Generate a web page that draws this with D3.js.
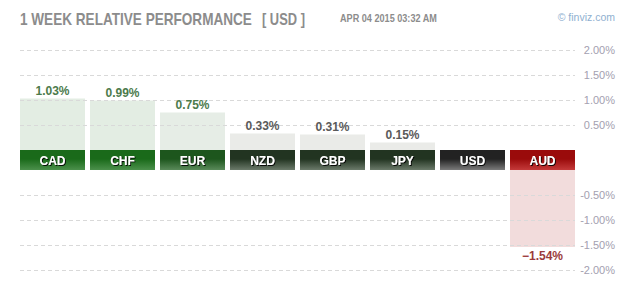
<!DOCTYPE html>
<html><head><meta charset="utf-8">
<script src="https://cdn.jsdelivr.net/npm/d3@7"></script>
<style>body{margin:0;background:#fff;} svg{display:block;font-family:Arial,"Liberation Sans",sans-serif;}</style>
</head><body>
<svg id="c" width="625" height="290"></svg>
<script>
const categories = ["CAD","CHF","EUR","NZD","GBP","JPY","USD","AUD"];
const values = [1.03, 0.99, 0.75, 0.33, 0.31, 0.15, 0.00, -1.54];
const posTicks = [0.5, 1.0, 1.5, 2.0];
const negTicks = [-0.5, -1.0, -1.5, -2.0];
const titleText = "1 WEEK RELATIVE PERFORMANCE";
const currencyText = "[ USD ]";
const dateText = "APR 04 2015 03:32 AM";
const creditText = "\u00A9 finviz.com";

const svg = d3.select("#c");
const x = d3.scaleBand().domain(categories).range([20, 575]).paddingInner(5/70).paddingOuter(0);
const yPos = d3.scaleLinear().domain([0, 2]).range([150, 50]);
const yNeg = d3.scaleLinear().domain([0, -2]).range([170, 270]);

function tier(v){
  if (v >= 0.9) return "g1";
  if (v >= 0.5) return "g2";
  if (v > 0) return "g3";
  if (v === 0) return "n";
  return "r";
}
const grads = {
  g1:["#1a6a1a","#4b904b"], g2:["#1d561d","#5a8a5a"], g3:["#223421","#6b7a6a"],
  n:["#222222","#7a7a7a"], r:["#9a0b0b","#c43a3a"]
};
const barFill = {g1:"#e3ede3", g2:"#e6ede6", g3:"#eaebe8", n:"#eaebe8", r:"#f2dcdc"};
const valColor = {g1:"#4c7b4c", g2:"#4c7b4c", g3:"#5a5a5a", n:"#5a5a5a", r:"#9b3b3b"};

const defs = svg.append("defs");
Object.entries(grads).forEach(([k,[a,b]])=>{
  const g = defs.append("linearGradient").attr("id","gr_"+k).attr("x1",0).attr("y1",0).attr("x2",0).attr("y2",1);
  g.append("stop").attr("offset","0%").attr("stop-color",a);
  g.append("stop").attr("offset","45%").attr("stop-color",a);
  g.append("stop").attr("offset","100%").attr("stop-color",b);
});
const f = defs.append("filter").attr("id","sh").attr("x","-20%").attr("y","-20%").attr("width","140%").attr("height","140%");
f.append("feDropShadow").attr("dx",1).attr("dy",1).attr("stdDeviation",0.3).attr("flood-color","#000").attr("flood-opacity",0.9);

// header: condensed text via horizontal scale to target width
function fitText(str, x0, y0, size, width, color){
  const g = svg.append("g");
  const t = g.append("text").attr("x",0).attr("y",0).attr("font-size",size).attr("font-weight","bold")
    .attr("fill",color).text(str);
  const w = t.node().getComputedTextLength();
  g.attr("transform","translate("+x0+","+y0+") scale("+(width/w)+",1)");
}
fitText(titleText, 20, 25, 17, 232, "#8c8c8c");
fitText(currencyText, 262, 25, 17, 43, "#8c8c8c");
fitText(dateText, 340, 22, 11, 97, "#8c8c8c");
svg.append("text").attr("x",615).attr("y",21).attr("text-anchor","end").attr("font-size",10.5)
  .attr("fill","#8fb0d0").text(creditText);

// bars (behind grid)
const bars = svg.append("g");
categories.forEach((c,i)=>{
  const v = values[i];
  if (v > 0) {
    bars.append("rect").attr("x",x(c)).attr("width",x.bandwidth())
      .attr("y",yPos(v)).attr("height",yPos(0)-yPos(v)).attr("fill",barFill[tier(v)]);
  } else if (v < 0) {
    bars.append("rect").attr("x",x(c)).attr("width",x.bandwidth())
      .attr("y",yNeg(0)).attr("height",yNeg(v)-yNeg(0)).attr("fill",barFill[tier(v)]);
  }
});

// grid
const grid = svg.append("g");
posTicks.forEach(t=>{
  grid.append("line").attr("x1",20).attr("x2",575).attr("y1",yPos(t)+0.5).attr("y2",yPos(t)+0.5)
    .attr("stroke","#d9d9d9").attr("stroke-dasharray","4,3");
  grid.append("text").attr("x",615).attr("y",yPos(t)+4).attr("text-anchor","end")
    .attr("font-size",11).attr("fill","#a3a0b0").text(d3.format(".2f")(t)+"%");
});
negTicks.forEach(t=>{
  grid.append("line").attr("x1",20).attr("x2",575).attr("y1",yNeg(t)+0.5).attr("y2",yNeg(t)+0.5)
    .attr("stroke","#d9d9d9").attr("stroke-dasharray","4,3");
  grid.append("text").attr("x",615).attr("y",yNeg(t)+4).attr("text-anchor","end")
    .attr("font-size",11).attr("fill","#a3a0b0").text("-"+d3.format(".2f")(-t)+"%");
});

// label bands + values
categories.forEach((c,i)=>{
  const v = values[i], k = tier(v);
  svg.append("rect").attr("x",x(c)).attr("width",x.bandwidth()).attr("y",yPos(0)).attr("height",yNeg(0)-yPos(0))
    .attr("fill","url(#gr_"+k+")");
  svg.append("text").attr("x",x(c)+x.bandwidth()/2).attr("y",yPos(0)+14.5).attr("text-anchor","middle")
    .attr("font-size",12).attr("font-weight","bold").attr("fill","#fff").attr("filter","url(#sh)").text(c);
  if (v > 0) {
    svg.append("text").attr("x",x(c)+x.bandwidth()/2).attr("y",yPos(v)-4).attr("text-anchor","middle")
      .attr("font-size",12).attr("font-weight","bold").attr("fill",valColor[k]).text(d3.format(".2f")(v)+"%");
  } else if (v < 0) {
    svg.append("text").attr("x",x(c)+x.bandwidth()/2).attr("y",yNeg(v)+13).attr("text-anchor","middle")
      .attr("font-size",12).attr("font-weight","bold").attr("fill",valColor[k]).text(d3.format(".2f")(v)+"%");
  }
});
</script>
</body></html>
